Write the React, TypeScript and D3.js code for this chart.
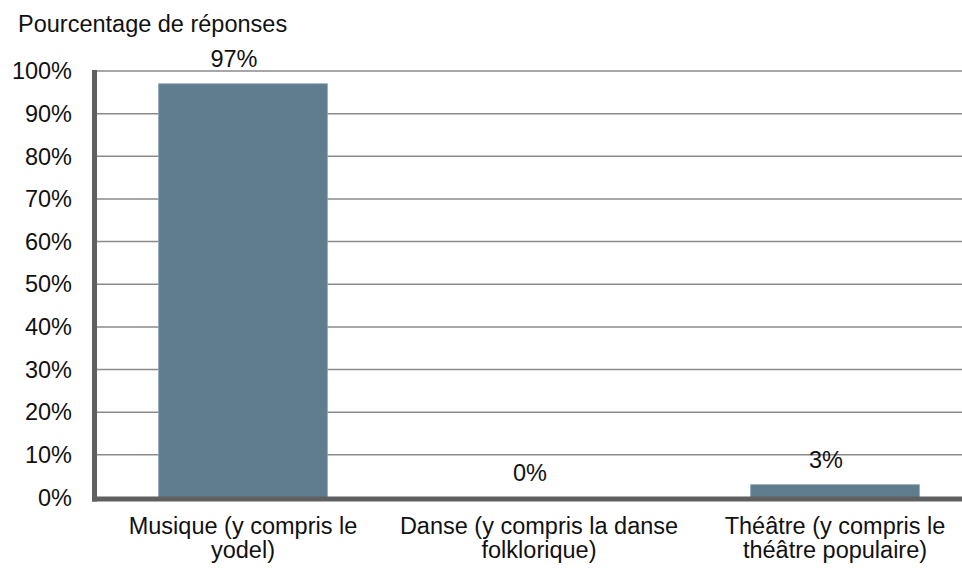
import React, { useEffect, useRef } from 'react';
import * as d3 from 'd3';

// chart data
const categories = [
  'Musique (y compris le\nyodel)',
  'Danse (y compris la danse\nfolklorique)',
  'Théâtre (y compris le\nthéâtre populaire)',
];
const shares = [0.97, 0.0, 0.03];
const yTicks = [0, 0.1, 0.2, 0.3, 0.4, 0.5, 0.6, 0.7, 0.8, 0.9, 1];
const yTitle = 'Pourcentage de réponses';

const width = 962;
const height = 568;
const font = '"Liberation Sans", Arial, sans-serif';
const fontSize = 23.5;

const chart = (svgEl: d3.Selection<SVGSVGElement, any, any, any>) => {
  const left = 95;
  const right = 983;
  const top = 71;
  const bottom = 497.5;

  const x = d3.scaleBand<string>().domain(categories).range([left, right]).paddingInner(0.43).paddingOuter(0.215);
  const y = d3.scaleLinear().domain([0, 1]).range([bottom, top]);
  const pct = d3.format('.0%');

  const g = svgEl.append('g').style('font-family', font).style('font-size', `${fontSize}px`).attr('fill', '#111');

  // horizontal gridlines
  g.append('g')
    .selectAll('line')
    .data(yTicks.filter((d) => d > 0))
    .join('line')
    .attr('x1', left)
    .attr('x2', width)
    .attr('y1', (d) => y(d))
    .attr('y2', (d) => y(d))
    .attr('stroke', '#8a8a8a')
    .attr('stroke-width', 1.5);

  // y tick labels
  g.append('g')
    .selectAll('text')
    .data(yTicks)
    .join('text')
    .attr('x', 72)
    .attr('y', (d) => y(d))
    .attr('dy', '0.35em')
    .attr('text-anchor', 'end')
    .text((d) => pct(d));

  // bars
  g.append('g')
    .selectAll('rect')
    .data(shares)
    .join('rect')
    .attr('x', (_, i) => x(categories[i])!)
    .attr('width', x.bandwidth())
    .attr('y', (d) => y(d))
    .attr('height', (d) => y(0) - y(d))
    .attr('fill', '#5f7d8f')
    .attr('stroke', '#8ba3b1')
    .attr('stroke-width', 0.8);

  // axes lines (thick dark grey)
  g.append('line')
    .attr('x1', 94.5)
    .attr('x2', 94.5)
    .attr('y1', top - 1)
    .attr('y2', bottom + 4)
    .attr('stroke', '#606060')
    .attr('stroke-width', 5);
  g.append('line')
    .attr('x1', 92)
    .attr('x2', width)
    .attr('y1', bottom + 1.5)
    .attr('y2', bottom + 1.5)
    .attr('stroke', '#606060')
    .attr('stroke-width', 5);

  // value labels
  g.append('g')
    .selectAll('text')
    .data(shares)
    .join('text')
    .attr('x', (_, i) => x(categories[i])! + x.bandwidth() / 2 - 9)
    .attr('y', (d) => y(d) - 17)
    .attr('text-anchor', 'middle')
    .text((d) => pct(d));

  // category labels
  const cat = g
    .append('g')
    .selectAll('text')
    .data(categories)
    .join('text')
    .attr('x', (d) => x(d)! + x.bandwidth() / 2)
    .attr('y', 534)
    .attr('text-anchor', 'middle');
  cat
    .selectAll('tspan')
    .data((d) => d.split('\n').map((line) => ({ line })))
    .join('tspan')
    .attr('x', function () {
      return (this.parentNode as SVGTextElement).getAttribute('x');
    })
    .attr('dy', (_, i) => (i === 0 ? 0 : 23.5))
    .text((d) => d.line);

  // axis title
  g.append('text').attr('x', 18).attr('y', 32).text(yTitle);
};

export default function App() {
  const svgRef = useRef<SVGSVGElement>(null);

  useEffect(() => {
    if (svgRef.current === null) {
      return;
    }
    const svgEl: d3.Selection<SVGSVGElement, any, any, any> = d3.select(svgRef.current);
    svgEl.selectAll('*').remove();
    chart(svgEl);
  }, []);

  return (
    <svg
      ref={svgRef}
      width={width}
      height={height}
      style={{ position: 'absolute', left: 0, top: 0, background: '#fff', display: 'block' }}
    ></svg>
  );
}
